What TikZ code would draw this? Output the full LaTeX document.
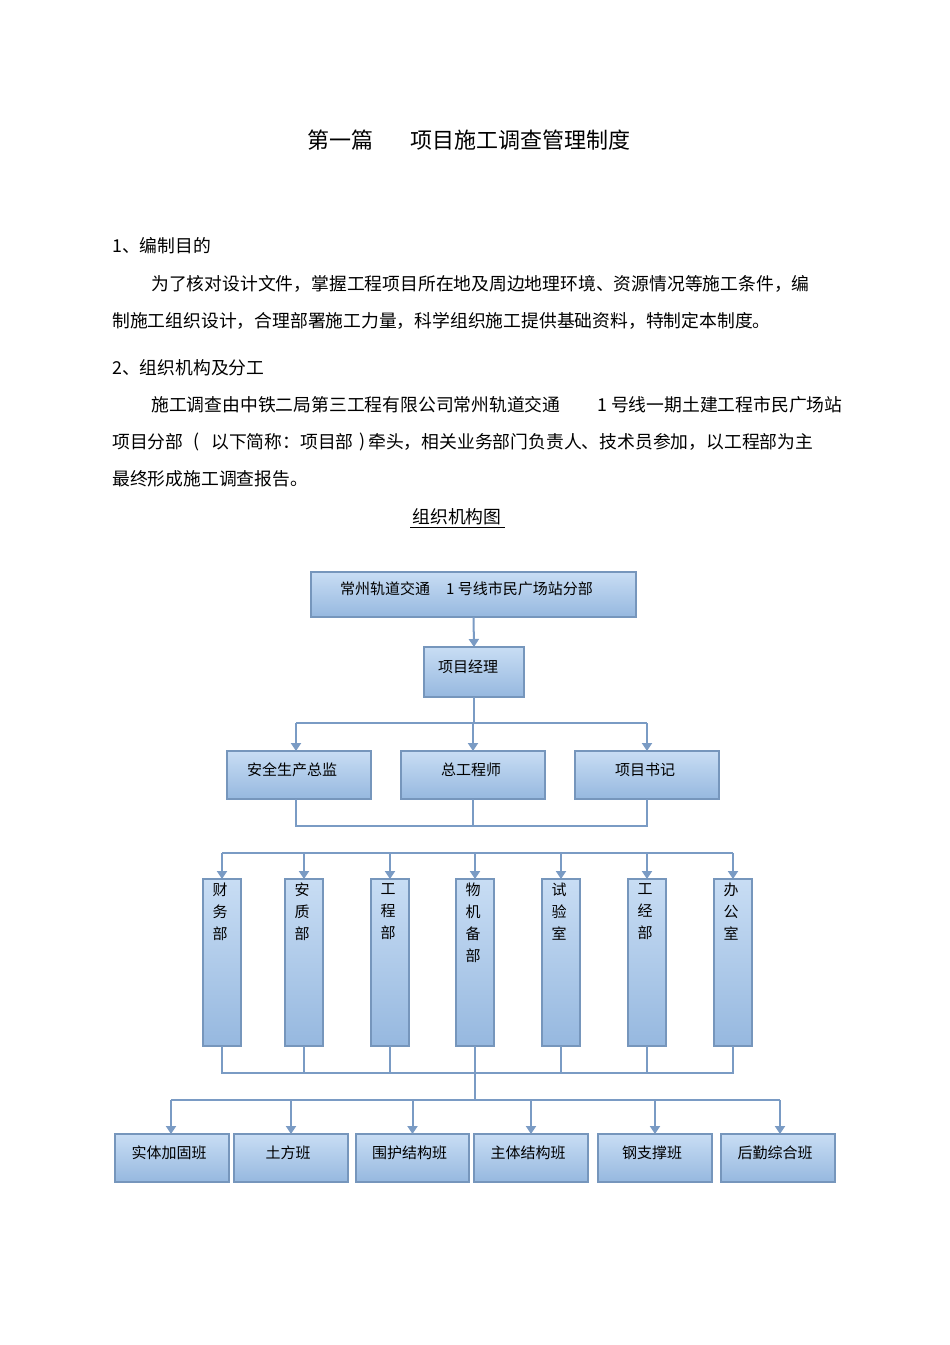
\documentclass[tikz,border=0pt]{standalone}
\usepackage{fontspec}
\setmainfont{Noto Sans CJK SC}
\usetikzlibrary{arrows.meta}
\definecolor{conn}{RGB}{122,155,196}
\definecolor{boxline}{RGB}{118,150,188}
\definecolor{boxtop}{RGB}{200,221,244}
\definecolor{boxbot}{RGB}{150,184,223}
\tikzset{
  box/.style={draw=boxline, line width=2.2pt, top color=boxtop, bottom color=boxbot, anchor=north west, inner sep=0pt, outer sep=0pt, rectangle},
  link/.style={draw=conn, line width=2pt},
  arr/.style={link, -{Triangle[length=8pt,width=10pt]}},
  body/.style={anchor=west, inner sep=0pt, font=\fontsize{17.8pt}{18pt}\selectfont},
  lbl/.style={inner sep=0pt, font=\fontsize{15pt}{15pt}\selectfont},
  vlbl/.style={inner sep=0pt, anchor=north, align=center, font=\fontsize{15pt}{22pt}\selectfont}
}
\begin{document}
\begin{tikzpicture}[x=1pt,y=-1pt]
\useasboundingbox[fill=white] (0,0) rectangle (950,1345);
% title
\node[inner sep=0pt, anchor=west, font=\fontsize{22pt}{22pt}\selectfont] (t1) at (307,140) {第一篇};
\node[inner sep=0pt, anchor=west, font=\fontsize{22pt}{22pt}\selectfont] (t2) at (410,140) {项目施工调查管理制度};
% body text
\node[body] (s1) at (112,246) {1、编制目的};
\node[body] (p1) at (151,284) {为了核对设计文件，掌握工程项目所在地及周边地理环境、资源情况等施工条件，编};
\node[body] (p2) at (112,321) {制施工组织设计，合理部署施工力量，科学组织施工提供基础资料，特制定本制度。};
\node[body] (s2) at (112,368) {2、组织机构及分工};
\node[body] (q1a) at (151,405) {施工调查由中铁二局第三工程有限公司常州轨道交通};
\node[body] (q1b) at (597,405) {1 号线一期土建工程市民广场站};
\node[body] (q2a) at (112,442) {项目分部};
\node[body] (q2b) at (193,442) {(};
\node[body] (q2c) at (211,442) {以下简称：项目部};
\node[body] (q2d) at (359,442) {)};
\node[body] (q2e) at (368,442) {牵头，相关业务部门负责人、技术员参加，以工程部为主};
\node[body] (q3) at (112,479) {最终形成施工调查报告。};
\node[body, anchor=center] (cap) at (457,517) {组织机构图};
\draw[line width=0.8pt] (410,527) -- (505,527);
% level 0
\node[box, minimum width=325pt, minimum height=45pt] (top) at (311,572) {};
\node[lbl, anchor=west] (toptxt) at (340,589) {常州轨道交通\hspace{16pt}1 号线市民广场站分部};
% level 1
\node[box, minimum width=100pt, minimum height=50pt] (pm) at (424,647) {};
\node[lbl] (pmtxt) at (468,667) {项目经理};
\draw[arr] (top.south) -- (pm.north);
% level 2
\node[box, minimum width=144pt, minimum height=48pt] (l1) at (227,751) {};
\node[box, minimum width=144pt, minimum height=48pt] (l2) at (401,751) {};
\node[box, minimum width=144pt, minimum height=48pt] (l3) at (575,751) {};
\node[lbl] (l1t) at (292,770) {安全生产总监};
\node[lbl] (l2t) at (471,770) {总工程师};
\node[lbl] (l3t) at (645,770) {项目书记};
\coordinate (busA) at (474,723);
\draw[link] (pm.south) -- (pm.south |- busA);
\draw[link] ([xshift=-3pt]l1.north |- busA) -- (l3.north |- busA);
\draw[arr] ([xshift=-3pt]l1.north |- busA) -- ([xshift=-3pt]l1.north);
\draw[arr] (l2.north |- busA) -- (l2.north);
\draw[arr] (l3.north |- busA) -- (l3.north);
\coordinate (busB) at (474,826);
\draw[link] ([xshift=-3pt]l1.south) -- ([xshift=-3pt]l1.south |- busB) -- (l3.south |- busB) -- (l3.south);
\draw[link] (l2.south) -- (l2.south |- busB);
% level 3 departments
\foreach \i/\cx/\t in {1/222/{财\\务\\部},2/304/{安\\质\\部},3/390/{工\\程\\部},4/475/{物\\机\\备\\部},5/561/{试\\验\\室},6/647/{工\\经\\部},7/733/{办\\公\\室}}{
  \node[box, minimum width=38pt, minimum height=167pt] (d\i) at (\cx-19,879) {};
  \node[vlbl] (d\i t) at (\cx-2,883) {\t};
}
\coordinate (busC) at (475,853);
\draw[link] (d1.north |- busC) -- (d7.north |- busC);
\foreach \i in {1,...,7}{
  \draw[arr] (d\i.north |- busC) -- (d\i.north);
}
\coordinate (busD) at (475,1073);
\draw[link] (d1.south) -- (d1.south |- busD) -- (d7.south |- busD) -- (d7.south);
\foreach \i in {2,...,6}{
  \draw[link] (d\i.south) -- (d\i.south |- busD);
}
% level 4 teams
\coordinate (busE) at (475,1100);
\draw[link] (d4.south |- busD) -- (busE);
\foreach \i/\x/\w/\t in {1/115/114/实体加固班,2/234/114/土方班,3/356/113/围护结构班,4/474/114/主体结构班,5/598/114/钢支撑班,6/721/114/后勤综合班}{
  \node[box, minimum width=\w pt, minimum height=48pt] (b\i) at (\x,1134) {};
  \node[lbl] (b\i t) at ([xshift=-3pt,yshift=5pt]b\i.center) {\t};
}
\draw[link] ([xshift=-1pt]b1.north |- busE) -- ([xshift=2pt]b6.north |- busE);
\draw[arr] ([xshift=-1pt]b1.north |- busE) -- ([xshift=-1pt]b1.north);
\foreach \i in {2,...,5}{
  \draw[arr] (b\i.north |- busE) -- (b\i.north);
}
\draw[arr] ([xshift=2pt]b6.north |- busE) -- ([xshift=2pt]b6.north);
\end{tikzpicture}
\end{document}
